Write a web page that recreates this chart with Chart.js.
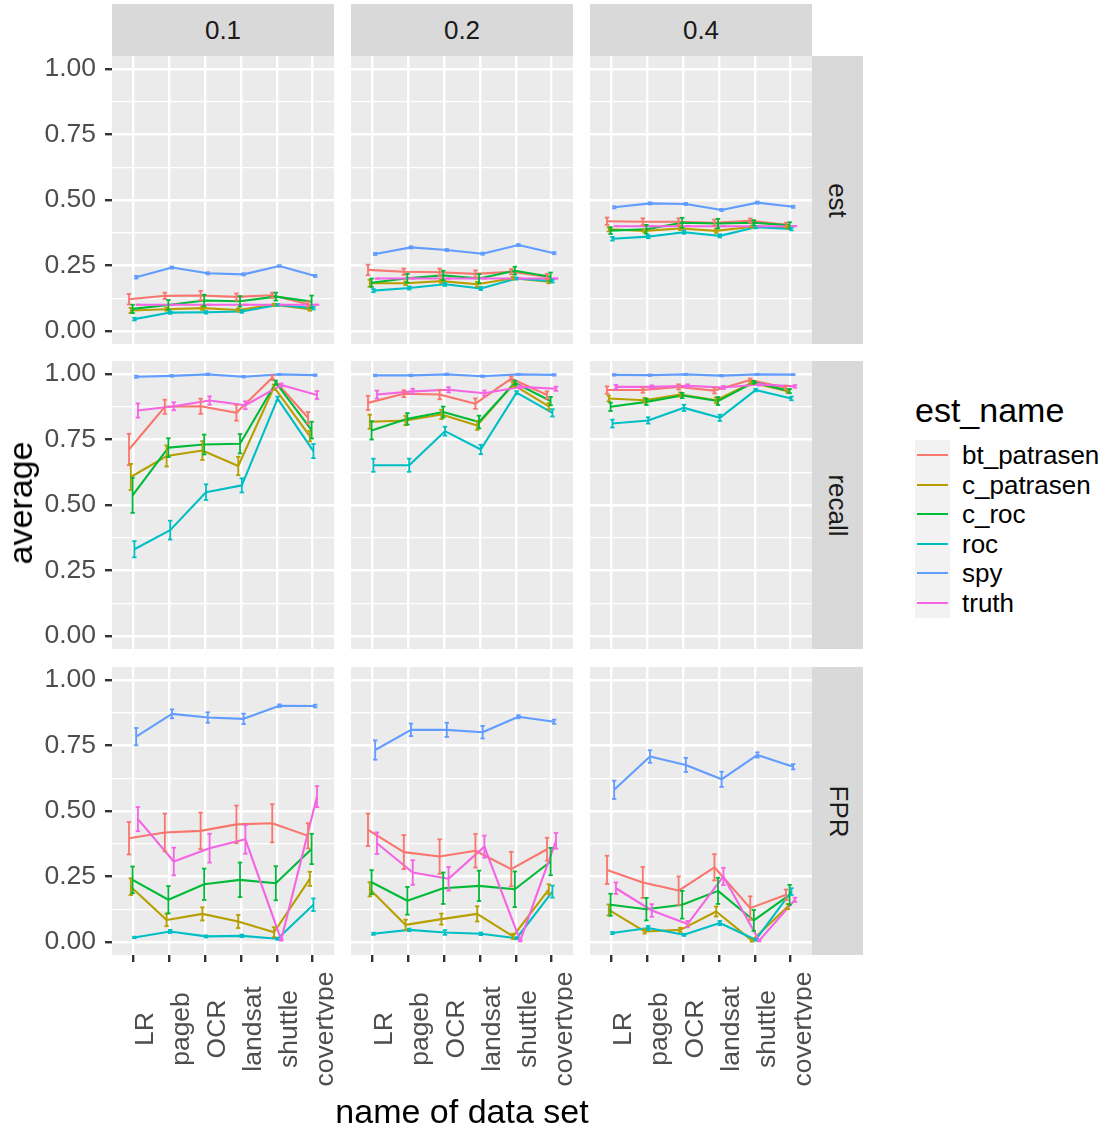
<!DOCTYPE html>
<html>
<head>
<meta charset="utf-8">
<title>average by data set, estimator and prior</title>
<script src="https://cdn.jsdelivr.net/npm/chart.js@4.4.1/dist/chart.umd.min.js"></script>
<style>
  html, body { margin: 0; padding: 0; background: #ffffff; }
  #fig { position: relative; width: 1115px; height: 1130px; overflow: hidden;
         font-family: "Liberation Sans", Arial, Helvetica, sans-serif; }
  #fig canvas { position: absolute; }
  .strip { position: absolute; background: #D9D9D9; color: #1A1A1A; font-size: 26px;
           display: flex; align-items: center; justify-content: center; }
  .strip span { display: inline-block; white-space: nowrap; }
  .title { position: absolute; color: #000; font-size: 34px; white-space: nowrap; line-height: 1; }
  .key { position: absolute; background: #F2F2F2; }
  .key i { position: absolute; left: 2px; right: 2px; top: 50%; height: 2px; margin-top: -1px; }
  .keylab { position: absolute; font-size: 26px; color: #000; line-height: 1; white-space: nowrap; }
</style>
</head>
<body>
<div id="fig"></div>
<script>
// ---- categories and groups ----
const datasetNames = ['LR', 'pageb', 'OCR', 'landsat', 'shuttle', 'covertype'];
const estimators   = ['bt_patrasen', 'c_patrasen', 'c_roc', 'roc', 'spy', 'truth'];
const seriesColors = ['#F8766D', '#B79F00', '#00BA38', '#00BFC4', '#619CFF', '#F564E3'];
const priors       = ['0.1', '0.2', '0.4'];
const measures     = ['est', 'recall', 'FPR'];
const yGridValues  = [0, 0.125, 0.25, 0.375, 0.5, 0.625, 0.75, 0.875, 1];

// ---- averages (rows follow `estimators`, columns follow `datasetNames`) and error half-widths ----
const est_p01_avg = [
  [0.121, 0.134, 0.135, 0.130, 0.136, 0.102],
  [0.078, 0.083, 0.087, 0.080, 0.100, 0.083],
  [0.084, 0.099, 0.116, 0.113, 0.131, 0.112],
  [0.045, 0.070, 0.071, 0.074, 0.099, 0.087],
  [0.205, 0.242, 0.220, 0.216, 0.248, 0.210],
  [0.100, 0.100, 0.100, 0.100, 0.100, 0.100]];
const est_p01_err = [
  [0.020, 0.012, 0.018, 0.013, 0.010, 0.010],
  [0.010, 0.006, 0.007, 0.006, 0.004, 0.006],
  [0.016, 0.019, 0.022, 0.020, 0.015, 0.023],
  [0.005, 0.005, 0.005, 0.005, 0.004, 0.005],
  [0.005, 0.004, 0.004, 0.004, 0.003, 0.004],
  [0, 0, 0, 0, 0, 0]];

const est_p02_avg = [
  [0.233, 0.226, 0.224, 0.218, 0.226, 0.207],
  [0.182, 0.182, 0.190, 0.178, 0.201, 0.188],
  [0.184, 0.201, 0.212, 0.200, 0.230, 0.207],
  [0.154, 0.164, 0.178, 0.162, 0.200, 0.190],
  [0.294, 0.319, 0.309, 0.295, 0.328, 0.297],
  [0.200, 0.200, 0.200, 0.200, 0.200, 0.200]];
const est_p02_err = [
  [0.020, 0.012, 0.014, 0.013, 0.010, 0.011],
  [0.013, 0.007, 0.007, 0.009, 0.005, 0.006],
  [0.016, 0.017, 0.018, 0.017, 0.015, 0.016],
  [0.006, 0.006, 0.006, 0.006, 0.004, 0.005],
  [0.004, 0.004, 0.004, 0.004, 0.004, 0.004],
  [0, 0, 0, 0, 0, 0]];

const est_p04_avg = [
  [0.419, 0.417, 0.417, 0.413, 0.421, 0.405],
  [0.388, 0.382, 0.391, 0.382, 0.398, 0.396],
  [0.383, 0.388, 0.413, 0.410, 0.413, 0.403],
  [0.352, 0.360, 0.377, 0.363, 0.396, 0.389],
  [0.472, 0.487, 0.485, 0.462, 0.490, 0.474],
  [0.400, 0.400, 0.400, 0.400, 0.400, 0.400]];
const est_p04_err = [
  [0.014, 0.013, 0.013, 0.012, 0.008, 0.008],
  [0.008, 0.006, 0.006, 0.008, 0.004, 0.005],
  [0.013, 0.017, 0.019, 0.018, 0.010, 0.012],
  [0.007, 0.006, 0.006, 0.006, 0.004, 0.005],
  [0.004, 0.004, 0.004, 0.004, 0.004, 0.004],
  [0, 0, 0, 0, 0, 0]];

const recall_p01_avg = [
  [0.712, 0.875, 0.877, 0.852, 0.986, 0.833],
  [0.607, 0.687, 0.708, 0.649, 0.950, 0.763],
  [0.537, 0.719, 0.731, 0.734, 0.967, 0.786],
  [0.331, 0.404, 0.549, 0.575, 0.906, 0.706],
  [0.990, 0.993, 0.999, 0.990, 0.999, 0.996],
  [0.861, 0.877, 0.899, 0.881, 0.958, 0.920]];
const recall_p01_err = [
  [0.060, 0.027, 0.029, 0.030, 0.009, 0.022],
  [0.050, 0.040, 0.036, 0.035, 0.010, 0.020],
  [0.067, 0.036, 0.038, 0.037, 0.008, 0.032],
  [0.031, 0.036, 0.030, 0.027, 0.008, 0.027],
  [0.004, 0.003, 0.003, 0.003, 0.002, 0.003],
  [0.027, 0.015, 0.016, 0.015, 0.006, 0.015]];

const recall_p02_avg = [
  [0.890, 0.925, 0.922, 0.887, 0.983, 0.920],
  [0.818, 0.823, 0.846, 0.804, 0.960, 0.877],
  [0.785, 0.829, 0.855, 0.817, 0.967, 0.897],
  [0.652, 0.652, 0.782, 0.712, 0.929, 0.852],
  [0.995, 0.995, 0.999, 0.992, 0.999, 0.997],
  [0.922, 0.934, 0.940, 0.927, 0.951, 0.944]];
const recall_p02_err = [
  [0.027, 0.013, 0.018, 0.020, 0.008, 0.014],
  [0.027, 0.018, 0.018, 0.017, 0.008, 0.012],
  [0.035, 0.022, 0.021, 0.024, 0.008, 0.016],
  [0.025, 0.025, 0.017, 0.018, 0.006, 0.014],
  [0.003, 0.003, 0.003, 0.003, 0.002, 0.003],
  [0.015, 0.010, 0.010, 0.010, 0.006, 0.008]];

const recall_p04_avg = [
  [0.939, 0.939, 0.951, 0.937, 0.977, 0.948],
  [0.907, 0.900, 0.922, 0.900, 0.967, 0.935],
  [0.875, 0.894, 0.918, 0.897, 0.969, 0.935],
  [0.811, 0.823, 0.871, 0.833, 0.939, 0.907],
  [0.997, 0.996, 0.999, 0.994, 0.999, 0.998],
  [0.951, 0.951, 0.955, 0.949, 0.960, 0.953]];
const recall_p04_err = [
  [0.014, 0.010, 0.010, 0.011, 0.006, 0.008],
  [0.011, 0.009, 0.008, 0.011, 0.005, 0.007],
  [0.016, 0.012, 0.010, 0.015, 0.005, 0.008],
  [0.015, 0.012, 0.012, 0.012, 0.005, 0.007],
  [0.003, 0.003, 0.002, 0.003, 0.002, 0.002],
  [0.008, 0.006, 0.006, 0.006, 0.004, 0.005]];

const fpr_p01_avg = [
  [0.396, 0.418, 0.424, 0.449, 0.453, 0.405],
  [0.211, 0.084, 0.107, 0.078, 0.037, 0.241],
  [0.237, 0.161, 0.220, 0.237, 0.224, 0.355],
  [0.017, 0.040, 0.021, 0.023, 0.012, 0.142],
  [0.784, 0.871, 0.857, 0.852, 0.902, 0.901],
  [0.469, 0.307, 0.358, 0.392, 0.008, 0.555]];
const fpr_p01_err = [
  [0.062, 0.072, 0.070, 0.072, 0.073, 0.048],
  [0.032, 0.024, 0.025, 0.025, 0.019, 0.027],
  [0.051, 0.052, 0.060, 0.066, 0.065, 0.058],
  [0.003, 0.006, 0.004, 0.005, 0.004, 0.024],
  [0.033, 0.017, 0.020, 0.020, 0.005, 0.005],
  [0.046, 0.053, 0.055, 0.055, 0.003, 0.040]];

const fpr_p02_avg = [
  [0.428, 0.343, 0.326, 0.348, 0.278, 0.354],
  [0.201, 0.065, 0.087, 0.107, 0.021, 0.201],
  [0.228, 0.157, 0.205, 0.214, 0.201, 0.307],
  [0.031, 0.046, 0.036, 0.031, 0.014, 0.192],
  [0.733, 0.810, 0.810, 0.801, 0.860, 0.841],
  [0.377, 0.265, 0.241, 0.364, 0.005, 0.386]];
const fpr_p02_err = [
  [0.062, 0.065, 0.066, 0.064, 0.066, 0.044],
  [0.027, 0.020, 0.021, 0.029, 0.010, 0.019],
  [0.046, 0.053, 0.060, 0.058, 0.068, 0.052],
  [0.004, 0.005, 0.009, 0.005, 0.004, 0.023],
  [0.037, 0.024, 0.027, 0.024, 0.006, 0.008],
  [0.041, 0.047, 0.045, 0.042, 0.003, 0.030]];

const fpr_p04_avg = [
  [0.275, 0.227, 0.196, 0.285, 0.129, 0.180],
  [0.122, 0.040, 0.046, 0.116, 0.005, 0.135],
  [0.142, 0.125, 0.142, 0.195, 0.082, 0.180],
  [0.034, 0.053, 0.027, 0.072, 0.008, 0.192],
  [0.581, 0.708, 0.676, 0.621, 0.714, 0.669],
  [0.205, 0.120, 0.068, 0.250, 0.005, 0.161]];
const fpr_p04_err = [
  [0.054, 0.059, 0.054, 0.050, 0.045, 0.020],
  [0.021, 0.008, 0.008, 0.019, 0.004, 0.010],
  [0.042, 0.043, 0.053, 0.050, 0.040, 0.038],
  [0.004, 0.008, 0.004, 0.008, 0.003, 0.013],
  [0.035, 0.024, 0.027, 0.029, 0.010, 0.010],
  [0.022, 0.024, 0.012, 0.033, 0.003, 0.008]];

// facet rows = measures, facet columns = priors
const panelData = [
  [[est_p01_avg, est_p01_err], [est_p02_avg, est_p02_err], [est_p04_avg, est_p04_err]],
  [[recall_p01_avg, recall_p01_err], [recall_p02_avg, recall_p02_err], [recall_p04_avg, recall_p04_err]],
  [[fpr_p01_avg, fpr_p01_err], [fpr_p02_avg, fpr_p02_err], [fpr_p04_avg, fpr_p04_err]]
];

// ---- layout ----
const FONT = '"Liberation Sans", Arial, Helvetica, sans-serif';
const COL_X = [112, 351, 590];
const ROW_Y = [56, 361, 667];
const PANEL_W = 222, PANEL_H = 288;
const Y_AXIS_W = 112, X_AXIS_H = 175;
const DODGE = [-0.125, -0.075, -0.025, 0.025, 0.075, 0.125];
const isMajor = v => Math.abs(v * 4 - Math.round(v * 4)) < 1e-6;

Chart.defaults.font.family = FONT;

const fig = document.getElementById('fig');

const panelBackground = {
  id: 'panelBackground',
  beforeDraw(chart) {
    const { ctx, chartArea: a } = chart;
    ctx.save();
    ctx.fillStyle = '#EBEBEB';
    ctx.fillRect(a.left, a.top, a.right - a.left, a.bottom - a.top);
    ctx.restore();
  }
};

// vertical category labels, centred along their own length below each tick
const categoryLabels = {
  id: 'categoryLabels',
  afterDraw(chart) {
    const sc = chart.scales.x, ctx = chart.ctx;
    ctx.save();
    ctx.font = '26.5px ' + FONT;
    ctx.fillStyle = '#4D4D4D';
    ctx.textAlign = 'center';
    ctx.textBaseline = 'alphabetic';
    sc.ticks.forEach((t, i) => {
      const x = sc.getPixelForValue(t.value);
      ctx.save();
      ctx.translate(x + 20, sc.top + 74);
      ctx.rotate(-Math.PI / 2);
      ctx.fillText(datasetNames[i], 0, 0);
      ctx.restore();
    });
    ctx.restore();
  }
};

function makePanel(r, c) {
  const axisW = c === 0 ? Y_AXIS_W : 0;
  const axisH = r === 2 ? X_AXIS_H : 0;
  const cv = document.createElement('canvas');
  cv.width = PANEL_W + axisW;
  cv.height = PANEL_H + axisH;
  cv.style.left = (COL_X[c] - axisW) + 'px';
  cv.style.top = ROW_Y[r] + 'px';
  fig.appendChild(cv);

  const [avg, err] = panelData[r][c];
  const datasets = [];
  estimators.forEach((name, s) => {
    const xs = datasetNames.map((_, i) => i + 1 + DODGE[s]);
    datasets.push({
      label: name,
      data: xs.map((x, i) => ({ x: x, y: avg[s][i] })),
      borderColor: seriesColors[s],
      borderWidth: 2.1,
      borderJoinStyle: 'round',
      pointRadius: 0,
      fill: false,
      tension: 0,
      order: 20 - s
    });
    const bars = [];
    xs.forEach((x, i) => {
      bars.push({ x: x, y: avg[s][i] - err[s][i] },
                { x: x, y: avg[s][i] + err[s][i] },
                { x: x, y: null });
    });
    datasets.push({
      label: name + ' error',
      data: bars,
      borderColor: seriesColors[s],
      borderWidth: 1.8,
      pointStyle: 'line',
      pointRadius: 2.2,
      pointBorderWidth: 1.8,
      pointBorderColor: seriesColors[s],
      pointBackgroundColor: seriesColors[s],
      spanGaps: false,
      fill: false,
      tension: 0,
      order: 10 - s
    });
  });

  const plugins = [panelBackground];
  if (r === 2) plugins.push(categoryLabels);

  new Chart(cv, {
    type: 'line',
    data: { datasets: datasets },
    options: {
      responsive: false,
      animation: false,
      devicePixelRatio: 1,
      events: [],
      layout: { padding: 0, autoPadding: false },
      plugins: { legend: { display: false }, tooltip: { enabled: false } },
      scales: {
        x: {
          type: 'linear', position: 'bottom', min: 0.4, max: 6.6,
          afterBuildTicks: sc => { sc.ticks = datasetNames.map((_, i) => ({ value: i + 1 })); },
          afterFit: sc => { sc.height = axisH; sc.paddingLeft = 0; sc.paddingRight = 0; },
          border: { display: false },
          grid: { color: '#FFFFFF', lineWidth: 2.4, drawTicks: r === 2, tickLength: 7,
                  tickColor: '#333333', tickWidth: 2.4 },
          ticks: { display: false, autoSkip: false }
        },
        y: {
          type: 'linear', position: 'left', min: -0.05, max: 1.05,
          afterBuildTicks: sc => { sc.ticks = yGridValues.map(v => ({ value: v })); },
          afterFit: sc => { sc.width = axisW; sc.paddingTop = 0; sc.paddingBottom = 0; },
          border: { display: false },
          grid: {
            color: '#FFFFFF',
            lineWidth: ctx => (ctx.tick && isMajor(ctx.tick.value)) ? 2.4 : 1.2,
            drawTicks: c === 0, tickLength: 7, tickWidth: 2.4,
            tickColor: ctx => (ctx.tick && isMajor(ctx.tick.value)) ? '#333333' : 'rgba(0,0,0,0)'
          },
          ticks: {
            display: c === 0, autoSkip: false, padding: 9, color: '#4D4D4D',
            font: { family: FONT, size: 26.5 },
            callback: v => isMajor(v) ? v.toFixed(2) : ''
          }
        }
      }
    },
    plugins: plugins
  });
}

for (let r = 0; r < 3; r++) for (let c = 0; c < 3; c++) makePanel(r, c);

// ---- facet strips ----
priors.forEach((p, c) => {
  const d = document.createElement('div');
  d.className = 'strip';
  Object.assign(d.style, { left: COL_X[c] + 'px', top: '4px', width: PANEL_W + 'px', height: '52px' });
  d.innerHTML = '<span>' + p + '</span>';
  fig.appendChild(d);
});
measures.forEach((m, r) => {
  const d = document.createElement('div');
  d.className = 'strip';
  Object.assign(d.style, { left: '812px', top: ROW_Y[r] + 'px', width: '51px', height: PANEL_H + 'px' });
  d.innerHTML = '<span style="transform: rotate(90deg)">' + m + '</span>';
  fig.appendChild(d);
});

// ---- axis titles ----
const yTitle = document.createElement('div');
yTitle.className = 'title';
yTitle.textContent = 'average';
Object.assign(yTitle.style, { left: '20px', top: '503px', transform: 'translate(-50%, -50%) rotate(-90deg)' });
fig.appendChild(yTitle);

const xTitle = document.createElement('div');
xTitle.className = 'title';
xTitle.textContent = 'name of data set';
Object.assign(xTitle.style, { left: '462px', top: '1111px', transform: 'translate(-50%, -50%)' });
fig.appendChild(xTitle);

// ---- legend ----
const legTitle = document.createElement('div');
legTitle.className = 'title';
legTitle.textContent = 'est_name';
Object.assign(legTitle.style, { left: '915px', top: '393px' });
fig.appendChild(legTitle);

estimators.forEach((name, k) => {
  const cy = 455 + 29.6 * k;
  const key = document.createElement('div');
  key.className = 'key';
  Object.assign(key.style, { left: '915px', top: (cy - 14.8) + 'px', width: '34.6px', height: '29.6px' });
  key.innerHTML = '<i style="background:' + seriesColors[k] + '"></i>';
  fig.appendChild(key);
  const lab = document.createElement('div');
  lab.className = 'keylab';
  lab.textContent = name;
  Object.assign(lab.style, { left: '962px', top: (cy - 13) + 'px' });
  fig.appendChild(lab);
});
</script>
</body>
</html>
